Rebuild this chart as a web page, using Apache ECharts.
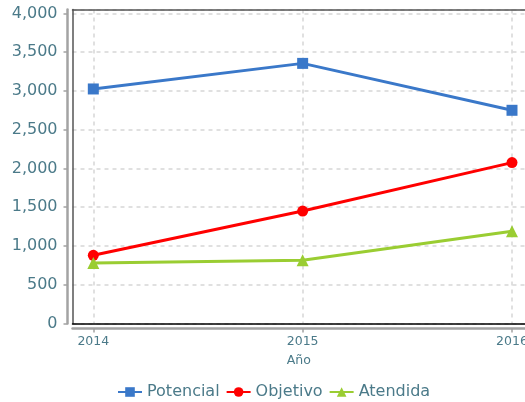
<!DOCTYPE html>
<html><head><meta charset="utf-8">
<script src="https://cdn.jsdelivr.net/npm/echarts@6/dist/echarts.min.js"></script>
<style>html,body{margin:0;padding:0;background:#fff}#c{width:525px;height:402px}</style>
</head><body><div id="c"></div>
<script>
const years = [2014, 2015, 2016];
const potencial = [3025, 3355, 2750];
const objetivo = [880, 1450, 2075];
const atendida = [780, 815, 1190];
const seriesNames = ['Potencial', 'Objetivo', 'Atendida'];
const xAxisName = 'Año';

const txt = '#4b7a89';
const font = 'DejaVu Sans';
const grid = '#d6d6d6';
const XMIN = 2013.9006, XMAX = 2016.0621;
const toPts = arr => years.map((y, i) => [y, arr[i]]);
const plainAxis = (extra) => Object.assign({
  type: 'value', axisTick: {show: false}, axisLabel: {show: false}, splitLine: {show: false}
}, extra);

const chart = echarts.init(document.getElementById('c'), null, {renderer: 'canvas'});
chart.setOption({
  animation: false,
  grid: {left: 72.5, top: 9.5, right: 0, bottom: 78.5, show: false, containLabel: false, outerBoundsMode: 'none'},
  xAxis: [{
    type: 'value', min: XMIN, max: XMAX, interval: 1, position: 'bottom', offset: 5,
    axisLine: {show: true, onZero: false, lineStyle: {color: '#a3a3a3', width: 2.5}},
    axisTick: {show: true, customValues: years, length: 4, lineStyle: {color: '#a3a3a3', width: 1.5}},
    axisLabel: {customValues: years, formatter: v => String(v), margin: 7, color: txt, fontSize: 12.5, fontFamily: font},
    splitLine: {show: true, lineStyle: {type: [4, 4], color: grid, width: 1.5}},
    name: xAxisName, nameLocation: 'middle', nameGap: 26,
    nameTextStyle: {color: txt, fontSize: 12.5, fontFamily: font}
  },
  plainAxis({min: XMIN, max: XMAX, position: 'bottom', offset: 0,
    axisLine: {show: true, onZero: false, lineStyle: {color: '#000', width: 1.5}}}),
  plainAxis({min: XMIN, max: XMAX, position: 'top', offset: 0,
    axisLine: {show: true, onZero: false, lineStyle: {color: '#555', width: 1.5}}})
  ],
  yAxis: [{
    type: 'value', min: 0, max: 4050, interval: 500, offset: 5, position: 'left',
    axisLine: {show: true, onZero: false, lineStyle: {color: '#a3a3a3', width: 2.5}},
    axisTick: {show: true, length: 4, lineStyle: {color: '#a3a3a3', width: 1.5}},
    axisLabel: {showMaxLabel: false, margin: 10, color: txt, fontSize: 16, fontFamily: font,
      padding: [2, 0, 0, 0], formatter: v => v.toLocaleString('en-US')},
    splitLine: {show: true, lineStyle: {type: [4, 4], color: grid, width: 1.5}}
  },
  plainAxis({min: 0, max: 4050, position: 'left', offset: 0,
    axisLine: {show: true, onZero: false, lineStyle: {color: '#555', width: 1.5}}})
  ],
  legend: {
    data: seriesNames, left: 112, top: 379, itemGap: 6, itemWidth: 24, itemHeight: 12,
    textStyle: {color: txt, fontSize: 16, fontFamily: font}
  },
  series: [
    {name: seriesNames[0], type: 'line', xAxisIndex: 0, yAxisIndex: 0, data: toPts(potencial), symbol: 'rect', symbolSize: 11,
     color: '#3a78c9', lineStyle: {width: 3}, itemStyle: {color: '#3a78c9'}},
    {name: seriesNames[1], type: 'line', xAxisIndex: 0, yAxisIndex: 0, data: toPts(objetivo), symbol: 'circle', symbolSize: 11,
     color: '#ff0000', lineStyle: {width: 3}, itemStyle: {color: '#ff0000'}},
    {name: seriesNames[2], type: 'line', xAxisIndex: 0, yAxisIndex: 0, data: toPts(atendida), symbol: 'triangle', symbolSize: 12,
     color: '#9acd32', lineStyle: {width: 3}, itemStyle: {color: '#9acd32'}}
  ]
});
</script></body></html>
